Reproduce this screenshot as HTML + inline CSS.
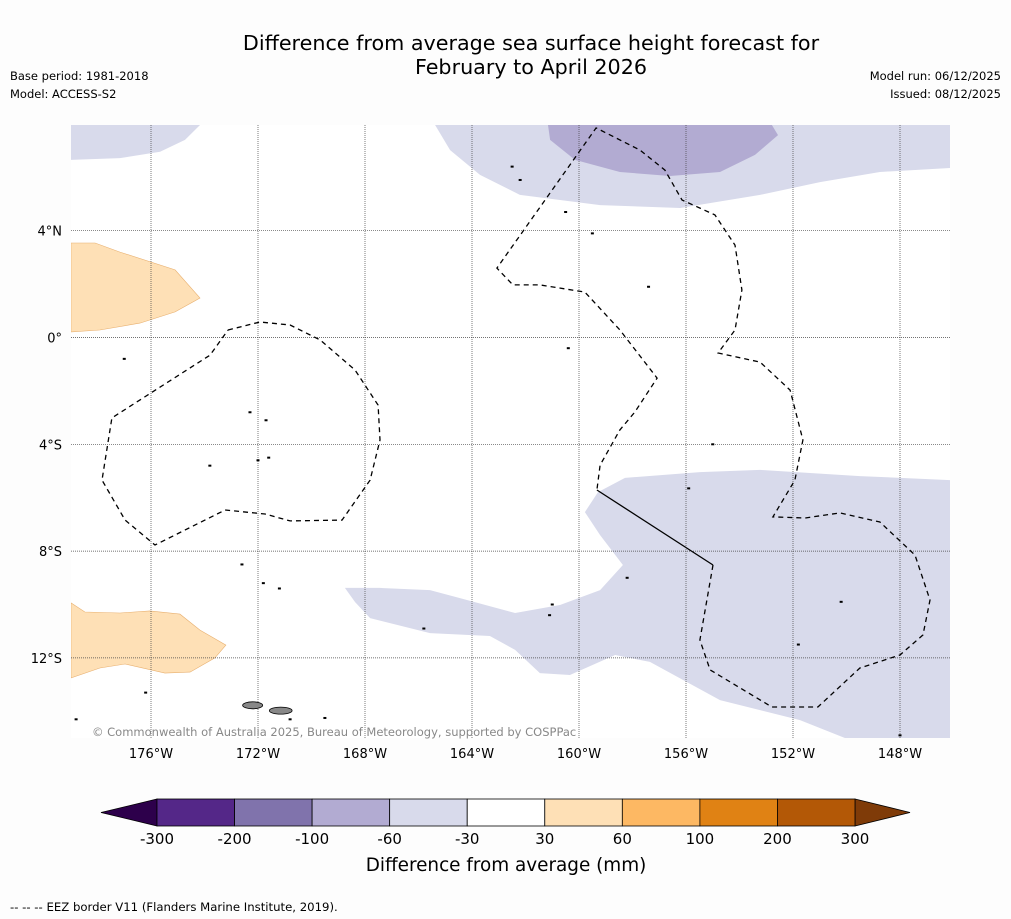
<!DOCTYPE html>
<html><head><meta charset="utf-8"><style>
body{margin:0;background:#fdfdfd;font-family:"DejaVu Sans",sans-serif;}
#wrap{position:relative;width:1011px;height:919px;overflow:hidden;}
</style></head><body><div id="wrap">
<svg id="svg" width="1011" height="919" xmlns="http://www.w3.org/2000/svg" font-family="DejaVu Sans, sans-serif">
<defs><clipPath id="mc"><rect x="71" y="125" width="879" height="613"/></clipPath></defs>
<text x="531" y="50" font-size="20.7" text-anchor="middle">Difference from average sea surface height forecast for</text>
<text x="531" y="74" font-size="20.7" text-anchor="middle">February to April 2026</text>
<text x="10" y="80" font-size="11.5">Base period: 1981-2018</text>
<text x="10" y="98" font-size="11.5">Model: ACCESS-S2</text>
<text x="1001" y="80" font-size="11.5" text-anchor="end">Model run: 06/12/2025</text>
<text x="1001" y="98" font-size="11.5" text-anchor="end">Issued: 08/12/2025</text>
<g id="map"></g>
<g id="cbar"></g>
<text x="506" y="871" font-size="18.4" text-anchor="middle">Difference from average (mm)</text>
<text x="10" y="911" font-size="11.7">--  --  -- EEZ border V11 (Flanders Marine Institute, 2019).</text>
</svg></div>
<script>
const lonTicks=[-176,-172,-168,-164,-160,-156,-152,-148];
const latTicks=[4,0,-4,-8,-12];
const cbBounds=[-300,-200,-100,-60,-30,30,60,100,200,300];
const cbColors=["#542788","#8073ac","#b2abd2","#d8daeb","#ffffff","#fee0b6","#fdb863","#e08214","#b35806"];
const cbLow="#2d004b", cbHigh="#7f3b08";
const lavTopLeft=[[-178.99,7.96],[-174.17,7.96],[-174.73,7.4],[-175.66,6.96],[-177.16,6.72],[-178.99,6.65]];
const lavTop=[[-165.38,7.96],[-164.82,7.02],[-163.7,6.09],[-162.21,5.34],[-159.21,4.96],[-156.22,4.85],[-153.23,5.34],[-150.99,5.82],[-148.75,6.2],[-146.13,6.35],[-146.13,7.96]];
const purTop=[[-161.16,7.96],[-161.08,7.4],[-160.15,6.65],[-158.47,6.2],[-156.6,6.05],[-154.73,6.2],[-153.42,6.84],[-152.56,7.58],[-152.79,7.96]];
const orTop=[[-178.99,3.54],[-178.09,3.54],[-177.16,3.2],[-175.1,2.53],[-174.17,1.48],[-175.1,0.96],[-176.41,0.54],[-177.91,0.28],[-178.99,0.21]];
const orBot=[[-178.99,-9.94],[-178.47,-10.28],[-177.16,-10.32],[-176.04,-10.24],[-174.92,-10.36],[-174.17,-10.96],[-173.2,-11.52],[-173.61,-12.0],[-174.54,-12.53],[-175.48,-12.57],[-176.97,-12.23],[-177.91,-12.38],[-178.99,-12.75]];
const lavBot=[[-168.75,-9.38],[-167.44,-9.38],[-165.57,-9.46],[-164.45,-9.76],[-162.39,-10.32],[-160.71,-10.02],[-159.21,-9.46],[-158.36,-8.52],[-159.21,-7.4],[-159.78,-6.54],[-159.29,-5.79],[-158.28,-5.26],[-155.48,-5.04],[-153.23,-4.96],[-149.5,-5.19],[-146.13,-5.34],[-146.13,-15],[-150.06,-15],[-151.74,-14.33],[-154.73,-13.58],[-157.35,-12.15],[-158.65,-11.89],[-160.34,-12.64],[-161.46,-12.57],[-162.39,-11.7],[-163.33,-11.18],[-165.57,-11.07],[-167.81,-10.51],[-168.37,-9.91]];
const eezGilbert=[[-173.12,0.28],[-171.93,0.58],[-170.8,0.47],[-169.68,-0.09],[-168.37,-1.22],[-167.51,-2.53],[-167.44,-3.84],[-167.81,-5.34],[-168.86,-6.84],[-170.8,-6.87],[-171.74,-6.61],[-173.23,-6.46],[-175.85,-7.77],[-176.97,-6.84],[-177.83,-5.34],[-177.46,-3.01],[-173.79,-0.66],[-173.12,0.28]];
const eezLineA=[[-154.99,-8.52],[-155.48,-11.33],[-155.1,-12.45],[-152.79,-13.84],[-151.07,-13.84],[-149.5,-12.38],[-148.0,-11.89],[-147.14,-11.14],[-146.88,-9.83],[-147.44,-8.15],[-148.75,-6.91],[-150.24,-6.57],[-151.55,-6.76],[-152.75,-6.72],[-151.93,-5.34],[-151.63,-3.84],[-152.11,-1.97],[-153.23,-0.92],[-154.8,-0.58],[-154.17,0.28],[-153.91,1.78],[-154.17,3.46],[-154.92,4.59],[-156.15,5.15],[-156.79,6.27],[-157.72,7.02],[-159.36,7.85],[-163.07,2.6],[-162.47,1.97],[-161.46,1.97],[-159.78,1.7],[-158.47,0.28],[-157.08,-1.52],[-157.91,-2.79],[-158.47,-3.46],[-159.21,-4.78],[-159.33,-5.71]];
const borderSolid=[[-159.33,-5.71],[-154.99,-8.52]];
const islands=[[-172.3,-2.8],[-171.7,-3.1],[-173.8,-4.8],[-172.0,-4.6],[-171.6,-4.5],[-160.4,-0.4],[-157.4,1.9],[-159.5,3.9],[-160.5,4.7],[-162.2,5.9],[-162.5,6.4],[-155.0,-4.0],[-155.9,-5.65],[-158.2,-9.0],[-161.0,-10.0],[-161.1,-10.4],[-150.2,-9.9],[-151.8,-11.5],[-165.8,-10.9],[-172.6,-8.5],[-171.8,-9.2],[-171.2,-9.4],[-176.2,-13.3],[-178.8,-14.3],[-170.8,-14.3],[-169.5,-14.25],[-148.0,-14.9],[-145.9,-14.5],[-177.0,-0.8]];
const X0=151,XS=26.75,Y0=337.5,YS=26.7,L=71,R=950,T=125,B=738;
const px=lon=>X0+(lon+176)*XS, py=lat=>Y0-lat*YS;
const NS="http://www.w3.org/2000/svg";
const root=document.getElementById('map');
const map=document.createElementNS(NS,'g');map.setAttribute('clip-path','url(#mc)');root.appendChild(map);


function mk(tag,attrs,parent){const e=document.createElementNS(NS,tag);for(const k in attrs)e.setAttribute(k,attrs[k]);(parent||map).appendChild(e);return e;}
const pts=a=>a.map(p=>px(p[0]).toFixed(1)+','+py(p[1]).toFixed(1)).join(' ');
mk('rect',{x:L,y:T,width:R-L,height:B-T,fill:'#ffffff'});
function poly(arr,fill,stroke,name){const e=mk('polygon',{points:pts(arr),fill:fill,stroke:stroke,'stroke-width':0.6});

}
poly(lavTopLeft,cbColors[3],'none','anomaly-region-topleft');
poly(lavTop,cbColors[3],'none','anomaly-region-top');
poly(purTop,cbColors[2],'none','anomaly-region-top-strong');
poly(orTop,cbColors[5],'#e8b070','anomaly-region-orange-north');
poly(orBot,cbColors[5],'#e8b070','anomaly-region-orange-south');
poly(lavBot,cbColors[3],'none','anomaly-region-southeast');
lonTicks.forEach(lon=>{const x=px(lon);
const g=mk('line',{x1:x,x2:x,y1:T,y2:B,stroke:'#444','stroke-width':0.7,'stroke-dasharray':'1,1'});


const t=mk('text',{x:x,y:B+20,'font-size':13,'text-anchor':'middle'},root);t.textContent=Math.abs(lon)+'°W';

});
latTicks.forEach(lat=>{const y=py(lat);
const g=mk('line',{x1:L,x2:R,y1:y,y2:y,stroke:'#444','stroke-width':0.7,'stroke-dasharray':'1,1'});


const t=mk('text',{x:62,y:y+5,'font-size':13,'text-anchor':'end'},root);t.textContent=lat===0?'0°':Math.abs(lat)+'°'+(lat>0?'N':'S');

});
[eezGilbert,eezLineA].forEach(a=>{const e=mk('polyline',{points:pts(a),fill:'none',stroke:'#000','stroke-width':1.3,'stroke-dasharray':'5,4'});

});
const sb=mk('polyline',{points:pts(borderSolid),fill:'none',stroke:'#000','stroke-width':1.3});


islands.forEach(p=>{const e=mk('rect',{x:px(p[0])-1.5,y:py(p[1])-1,width:3,height:2,fill:'#000'});

});
[[-172.5,-13.6,-171.9,-13.95],[-171.5,-13.85,-170.8,-14.1]].forEach(s=>{const e=mk('ellipse',{cx:(px(s[0])+px(s[2]))/2,cy:(py(s[1])+py(s[3]))/2,rx:(px(s[2])-px(s[0]))/2+2,ry:3.5,fill:'#888',stroke:'#000','stroke-width':0.8});

});
const cp=mk('text',{x:92,y:736,'font-size':11.5,fill:'#888'},root);cp.textContent='© Commonwealth of Australia 2025, Bureau of Meteorology, supported by COSPPac';


const cb=document.getElementById('cbar');const CL=157,CR=855,CT=799,CB=826,n=cbColors.length,w=(CR-CL)/n;
const lo=mk('polygon',{points:`${CL},${CT} ${CL},${CB} 101,${(CT+CB)/2}`,fill:cbLow,stroke:'#000','stroke-width':0.8},cb);


const hi=mk('polygon',{points:`${CR},${CT} ${CR},${CB} 910,${(CT+CB)/2}`,fill:cbHigh,stroke:'#000','stroke-width':0.8},cb);


cbColors.forEach((c,i)=>{const r=mk('rect',{x:CL+i*w,y:CT,width:w,height:CB-CT,fill:c,stroke:'#000','stroke-width':0.8},cb);

});
cbBounds.forEach((b,i)=>{const t=mk('text',{x:CL+i*w,y:844,'font-size':15,'text-anchor':'middle'},cb);t.textContent=b;

});
</script></body></html>
